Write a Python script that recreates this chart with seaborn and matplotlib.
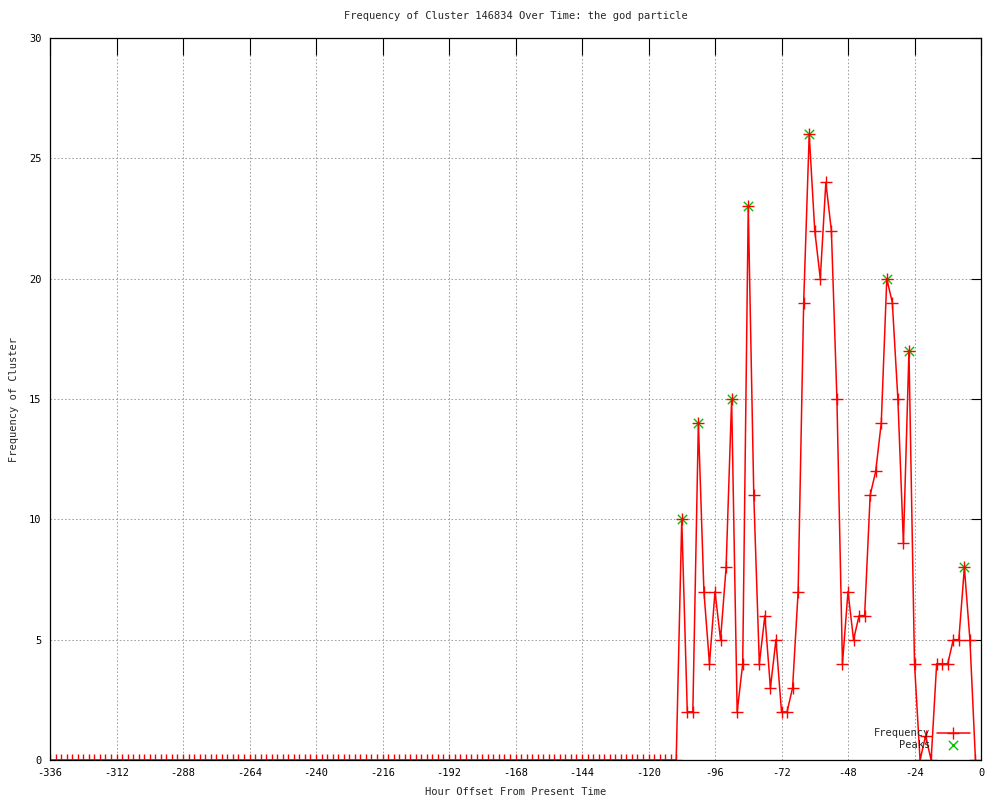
import numpy as np
import pandas as pd
import matplotlib
matplotlib.use("Agg")
import matplotlib.pyplot as plt
import seaborn as sns

# hourly offsets, one sample every 2 hours
hours = np.arange(-336, 0, 2)

# flat at zero from -336 up to -112
quiet_counts = [0] * 113
# -110 .. -2
active_counts = [0, 10, 2, 2, 14, 7, 4, 7, 5, 8,
                 15, 2, 4, 23, 11, 4, 6, 3, 5, 2,
                 2, 3, 7, 19, 26, 22, 20, 24, 22, 15,
                 4, 7, 5, 6, 6, 11, 12, 14, 20, 19,
                 15, 9, 17, 4, 0, 1, 0, 4, 4, 4,
                 5, 5, 8, 5, 0]
frequency = quiet_counts + active_counts

peak_hours = [-108, -102, -90, -84, -62, -34, -26, -6]
peak_values = [10, 14, 15, 23, 26, 20, 17, 8]

x_ticks = list(range(-336, 1, 24))
y_ticks = [0, 5, 10, 15, 20, 25, 30]

title = "Frequency of Cluster 146834 Over Time: the god particle"

sns.set_style("white")
plt.rcParams["font.family"] = ["DejaVu Sans Mono"]
plt.rcParams["axes.unicode_minus"] = False

df = pd.DataFrame({"hour": hours, "freq": frequency})
peaks = pd.DataFrame({"hour": peak_hours, "freq": peak_values})

fig = plt.figure(figsize=(10, 8), dpi=100)
ax = fig.add_axes([0.05, 0.05, 0.931, 0.9025])

sns.scatterplot(data=peaks, x="hour", y="freq", ax=ax, marker="x", s=45,
                color="#00c000", linewidth=1.0, label="    Peaks", zorder=3)
sns.lineplot(data=df, x="hour", y="freq", ax=ax, color="red", linewidth=1.1,
             marker="+", markersize=8, markeredgewidth=1.0,
             markeredgecolor="red", label="Frequency", zorder=4)

ax.set_xlim(-336, 0)
ax.set_ylim(0, 30)
ax.set_xticks(x_ticks)
ax.set_yticks(y_ticks)
ax.grid(True, color="#a0a0a0", linestyle=(0, (1.5, 2.0)), linewidth=0.75)
ax.tick_params(axis="both", direction="in", top=True, right=True,
               labelsize=7.5, width=0.8, colors="black")
ax.tick_params(axis="x", length=12, pad=6)
ax.tick_params(axis="y", length=7.5, pad=6)
for s in ax.spines.values():
    s.set_color("black")
    s.set_linewidth(0.9)
    s.set_zorder(5)

ax.set_xlabel("Hour Offset From Present Time", fontsize=7.5, labelpad=6)
ax.set_ylabel("Frequency of Cluster", fontsize=7.5, labelpad=7)
ax.set_title(title, fontsize=7.5, pad=14)

# gnuplot style key: text first, sample after
h, l = ax.get_legend_handles_labels()
ax.legend(h[::-1], l[::-1], loc="lower right", frameon=False, markerfirst=False,
          fontsize=7.5, handlelength=3.2, labelspacing=0.15,
          borderaxespad=0.3, handletextpad=0.6,
          bbox_to_anchor=(0.996, 0.004))

fig.savefig("out.png", dpi=100)
